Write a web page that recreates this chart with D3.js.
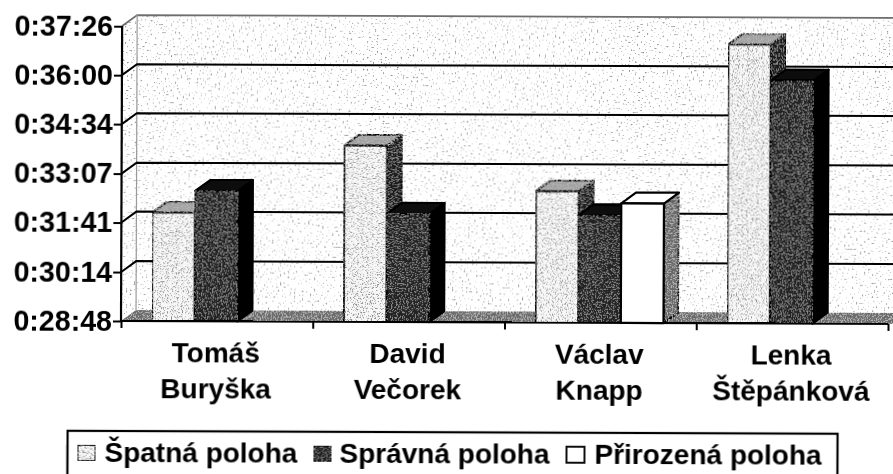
<!DOCTYPE html>
<html><head><meta charset="utf-8">
<script src="https://cdnjs.cloudflare.com/ajax/libs/d3/7.8.5/d3.min.js"></script>
<style>html,body{margin:0;background:#fff}svg{display:block}text{font-family:"Liberation Sans",Arial,sans-serif;font-weight:700;fill:#000}</style>
</head><body><svg id="c" width="893" height="474"></svg>
<script>
const categories=[["Tomáš","Buryška"],["David","Večorek"],["Václav","Knapp"],["Lenka","Štěpánková"]];
const seriesNames=["Špatná poloha","Správná poloha","Přirozená poloha"];
const spatna=["0:31:59","0:33:58","0:32:39","0:36:58"];
const spravna=["0:32:37","0:31:58","0:31:57","0:35:55"];
const prirozena=[null,null,"0:32:18",null];
const tickLabels=["0:28:48","0:30:14","0:31:41","0:33:07","0:34:34","0:36:00","0:37:26"];
const faces=[{front:"#f8f8f8",top:"#a0a0a0",side:"#1c1c1c",noise:"nLight"},
             {front:"#242424",top:"#0a0a0a",side:"#020202",noise:"nDark"},
             {front:"#ffffff",top:"#ffffff",side:"#666666",noise:null}];
const secs=s=>{const p=s.split(":").map(Number);return p[0]*3600+p[1]*60+p[2];};
const left=121,right=888,base=321,top0=26,dx=15,dy=11;
const y=d3.scaleLinear().domain([1728,2246.4]).range([base,top0]);
const x0=d3.scaleBand().domain(d3.range(categories.length)).range([left,right]);
const x1=d3.scaleBand().domain(d3.range(seriesNames.length)).range([31,159]);
const svg=d3.select("#c");
const defs=svg.append("defs");
function noise(id,freq,seed,slope,icpt,col){
  const f=defs.append("filter").attr("id",id).attr("x",0).attr("y",0).attr("width","100%").attr("height","100%");
  f.append("feTurbulence").attr("type","fractalNoise").attr("baseFrequency",freq).attr("numOctaves",3).attr("seed",seed).attr("result","t");
  f.append("feColorMatrix").attr("in","t").attr("type","matrix").attr("values",`0 0 0 0 0 0 0 0 0 0 0 0 0 0 0 ${slope} 0 0 0 ${icpt}`).attr("result","a");
  f.append("feFlood").attr("flood-color",col).attr("result","fl");
  f.append("feComposite").attr("in","fl").attr("in2","a").attr("operator","in").attr("result","sp");
  f.append("feComposite").attr("in","sp").attr("in2","SourceAlpha").attr("operator","in").attr("result","cl");
  const m=f.append("feMerge");m.append("feMergeNode").attr("in","SourceGraphic");m.append("feMergeNode").attr("in","cl");
}
noise("nWall",0.5,3,9,-5.75,"#909090");
noise("nLight",0.8,7,8,-4.35,"#8c8c8c");
noise("nDark",0.8,11,8,-4.3,"#8a8a8a");
noise("nFloor",0.8,5,8,-4.1,"#b8b8b8");
const soft=defs.append("filter").attr("id","soft").attr("filterUnits","userSpaceOnUse").attr("x",0).attr("y",0).attr("width",893).attr("height",474);
soft.append("feGaussianBlur").attr("stdDeviation",0.4);
const g=svg.append("g").attr("filter","url(#soft)").append("g").attr("transform",`rotate(0.22 ${left} ${base})`);
const line=d3.line();
const poly=(sel,pts,fill,filt)=>sel.append("path").attr("d",line(pts)+"Z").attr("fill",fill).attr("filter",filt?`url(#${filt})`:null);
// walls
const W=right+dx;
poly(g,[[left+dx,top0-dy],[W+40,top0-dy],[W+40,base-dy],[left+dx,base-dy]],"#fff","nWall");
poly(g,[[left,top0],[left+dx,top0-dy],[left+dx,base-dy],[left,base]],"#fff","nWall");
poly(g,[[left,base],[left+dx,base-dy],[W+40,base-dy],[W+20,base],[left,base]],"#6a6a6a","nFloor");
g.append("path").attr("d",line([[left,top0],[left+dx,top0-dy],[W+40,top0-dy]])).attr("fill","none").attr("stroke","#6e6e6e").attr("stroke-width",1.8);
g.append("line").attr("x1",left+dx).attr("x2",left+dx).attr("y1",top0-dy).attr("y2",base-dy).attr("stroke","#9a9a9a").attr("stroke-width",1.2);
// gridlines
const tickVals=tickLabels.map(secs);
const gridVals=tickVals.slice(1,-1);
g.selectAll(".gr").data(gridVals).join("path").attr("fill","none").attr("stroke","#000").attr("stroke-width",2)
 .attr("d",d=>line([[left,y(d)],[left+dx,y(d)-dy],[W+40,y(d)-dy]]));
// bars
categories.forEach((c,ci)=>{
 [spatna,spravna,prirozena].forEach((ser,si)=>{
  if(ser[ci]==null)return;
  const v=secs(ser[ci]),a=x0(ci)+x1(si),b=a+x1.bandwidth(),t=y(v),f=faces[si];
  const bar=g.append("g").attr("stroke","#000").attr("stroke-width",2.2).attr("stroke-linejoin","round");
  poly(bar,[[b,t],[b+dx,t-dy],[b+dx,base-dy],[b,base]],f.side,si===2?"nFloor":si===0?"nDark":null);
  poly(bar,[[a,t],[a+dx,t-dy],[b+dx,t-dy],[b,t]],f.top,si===0?"nFloor":null);
  poly(bar,[[a,t],[b,t],[b,base],[a,base]],f.front,f.noise);
 });
});
// axes
const yAxis=d3.axisLeft(y).tickValues(tickVals).tickFormat((d,i)=>tickLabels[i]).tickSize(8).tickPadding(1);
const ya=g.append("g").attr("transform",`translate(${left},0)`).call(yAxis);
ya.select(".domain").attr("stroke","#000").attr("stroke-width",2.2).attr("d",`M0,${top0}V${base}`);
ya.selectAll(".tick line").attr("stroke","#000").attr("stroke-width",2);
ya.selectAll("text").style("font-size","28.6px").style("font-family",'"Liberation Sans"').style("font-weight",700).attr("fill","#000");
const xEdges=d3.scaleLinear().domain([0,categories.length]).range([left,right]);
const xa=g.append("g").attr("transform",`translate(0,${base})`).call(d3.axisBottom(xEdges).tickValues(d3.range(categories.length+1)).tickFormat("").tickSize(7));
xa.selectAll("path,line").attr("stroke","#000").attr("stroke-width",2);
xa.select(".domain").attr("d",`M${left},0H${right}`);
// category labels
categories.forEach((c,i)=>{
 const cx=x0(i)+x0.bandwidth()/2-1;
 c.forEach((t,j)=>g.append("text").attr("x",cx).attr("y",[362,398][j]).attr("text-anchor","middle").style("font-size","28px").text(t));
});
// legend
const lg=g.append("g");
lg.append("rect").attr("x",68).attr("y",431).attr("width",770).attr("height",60).attr("fill","#fff").attr("stroke","#000").attr("stroke-width",2.2);
const legX=[78,314,567],textX=[105,340,595];
seriesNames.forEach((n,i)=>{
 const f=faces[i];
 lg.append("rect").attr("x",legX[i]).attr("y",445).attr("width",18).attr("height",16).attr("fill",f.front).attr("stroke","#111").attr("stroke-width",2).attr("filter",f.noise?`url(#${f.noise})`:null);
 lg.append("text").attr("x",textX[i]).attr("y",462).style("font-size","28px").text(n);
});
</script></body></html>
